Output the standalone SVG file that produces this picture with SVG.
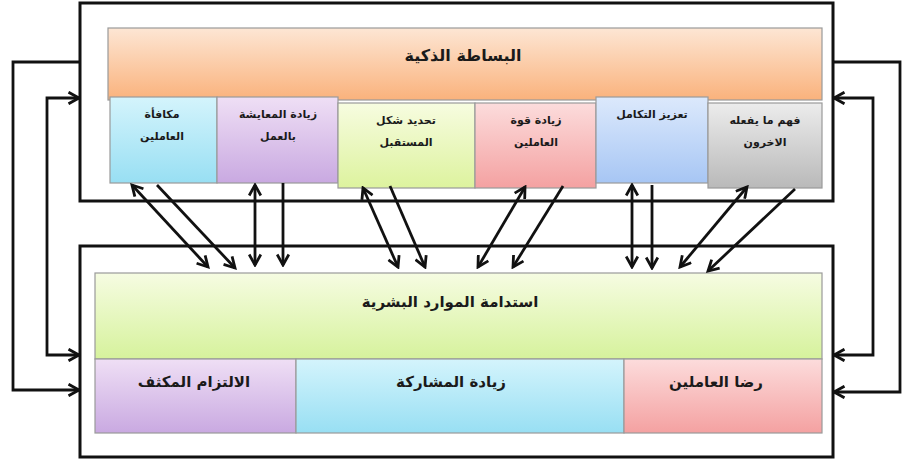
<svg xmlns="http://www.w3.org/2000/svg" width="909" height="461" viewBox="0 0 909 461">
<style>
.frame{fill:#fff;stroke:#111;stroke-width:3}
.box{stroke:#9a9a9a;stroke-width:1.2}
.t{font-family:"DejaVu Sans",sans-serif;font-weight:bold;fill:#1a1a1a;text-anchor:middle}
.big{font-size:16px}
.sm{font-size:11px}
.md{font-size:15px}
.c{fill:none;stroke:#111;stroke-width:2.8}
</style>
<defs>
<marker id="ah" viewBox="0 0 12 12" refX="10" refY="6" markerWidth="14" markerHeight="14" markerUnits="userSpaceOnUse" orient="auto-start-reverse">
<path d="M1,1 L10,6 L1,11" fill="none" stroke="#111" stroke-width="2.4"/>
</marker>
<linearGradient id="gOr" x1="0" y1="0" x2="0" y2="1"><stop offset="0" stop-color="#fde6d4"/><stop offset="1" stop-color="#fab27c"/></linearGradient>
<linearGradient id="gCy" x1="0" y1="0" x2="0" y2="1"><stop offset="0" stop-color="#d4f4fc"/><stop offset="1" stop-color="#98dff3"/></linearGradient>
<linearGradient id="gPu" x1="0" y1="0" x2="0" y2="1"><stop offset="0" stop-color="#efdff5"/><stop offset="1" stop-color="#c9a9e1"/></linearGradient>
<linearGradient id="gYe" x1="0" y1="0" x2="0" y2="1"><stop offset="0" stop-color="#f7fce0"/><stop offset="1" stop-color="#ddf39e"/></linearGradient>
<linearGradient id="gPk" x1="0" y1="0" x2="0" y2="1"><stop offset="0" stop-color="#fcdcdc"/><stop offset="1" stop-color="#f4a1a1"/></linearGradient>
<linearGradient id="gBl" x1="0" y1="0" x2="0" y2="1"><stop offset="0" stop-color="#dce9fc"/><stop offset="1" stop-color="#a7c6f4"/></linearGradient>
<linearGradient id="gGr" x1="0" y1="0" x2="0" y2="1"><stop offset="0" stop-color="#ececec"/><stop offset="1" stop-color="#b9b9b9"/></linearGradient>
<linearGradient id="gGn" x1="0" y1="0" x2="0" y2="1"><stop offset="0" stop-color="#f6fce2"/><stop offset="1" stop-color="#d6f29c"/></linearGradient>
</defs>

<g id="top-frame"><rect class="frame" x="80" y="3" width="753" height="198"/></g>
<g id="bottom-frame"><rect class="frame" x="80" y="246" width="753" height="211"/></g>

<g id="smart-simplicity">
<rect class="box" x="108" y="28" width="714" height="72" fill="url(#gOr)"/>
<text class="t big" x="463" y="61">البساطة الذكية</text>
</g>
<g id="n1">
<rect class="box" x="110" y="97" width="107" height="86" fill="url(#gCy)"/>
<text class="t sm" x="162" y="118">مكافأة</text>
<text class="t sm" x="162" y="140">العاملين</text>
</g>
<g id="n2">
<rect class="box" x="217" y="97" width="121" height="86" fill="url(#gPu)"/>
<text class="t sm" x="278" y="118">زيادة المعايشة</text>
<text class="t sm" x="278" y="140">بالعمل</text>
</g>
<g id="n3">
<rect class="box" x="338" y="103" width="137" height="85" fill="url(#gYe)"/>
<text class="t sm" x="406" y="124">تحديد شكل</text>
<text class="t sm" x="406" y="146">المستقبل</text>
</g>
<g id="n4">
<rect class="box" x="475" y="103" width="121" height="85" fill="url(#gPk)"/>
<text class="t sm" x="536" y="124">زيادة قوة</text>
<text class="t sm" x="536" y="146">العاملين</text>
</g>
<g id="n5">
<rect class="box" x="596" y="97" width="112" height="86" fill="url(#gBl)"/>
<text class="t sm" x="652" y="118">تعزيز التكامل</text>
</g>
<g id="n6">
<rect class="box" x="708" y="103" width="114" height="85" fill="url(#gGr)"/>
<text class="t sm" x="765" y="124">فهم ما يفعله</text>
<text class="t sm" x="765" y="146">الاخرون</text>
</g>

<g id="hr-sustainability">
<rect class="box" x="95" y="273" width="727" height="86" fill="url(#gGn)"/>
<text class="t md" x="450" y="307">استدامة الموارد البشرية</text>
</g>
<g id="b1">
<rect class="box" x="95" y="359" width="201" height="74" fill="url(#gPu)"/>
<text class="t md" x="194" y="387">الالتزام المكثف</text>
</g>
<g id="b2">
<rect class="box" x="296" y="359" width="328" height="74" fill="url(#gCy)"/>
<text class="t md" x="451" y="387">زيادة المشاركة</text>
</g>
<g id="b3">
<rect class="box" x="624" y="359" width="198" height="74" fill="url(#gPk)"/>
<text class="t md" x="716" y="387">رضا العاملين</text>
</g>

<g id="connectors">
<line class="c" x1="132" y1="185" x2="208" y2="267" marker-start="url(#ah)" marker-end="url(#ah)"/>
<line class="c" x1="157" y1="185" x2="235" y2="268" marker-end="url(#ah)"/>
<line class="c" x1="255" y1="185" x2="255" y2="265" marker-start="url(#ah)" marker-end="url(#ah)"/>
<line class="c" x1="283" y1="183" x2="283" y2="265" marker-end="url(#ah)"/>
<line class="c" x1="363" y1="188" x2="398" y2="267" marker-start="url(#ah)" marker-end="url(#ah)"/>
<line class="c" x1="390" y1="186" x2="425" y2="267" marker-end="url(#ah)"/>
<line class="c" x1="525" y1="187" x2="478" y2="267" marker-start="url(#ah)" marker-end="url(#ah)"/>
<line class="c" x1="563" y1="186" x2="513" y2="267" marker-end="url(#ah)"/>
<line class="c" x1="632" y1="185" x2="632" y2="267" marker-start="url(#ah)" marker-end="url(#ah)"/>
<line class="c" x1="652" y1="185" x2="652" y2="268" marker-end="url(#ah)"/>
<line class="c" x1="747" y1="187" x2="680" y2="267" marker-start="url(#ah)" marker-end="url(#ah)"/>
<line class="c" x1="795" y1="189" x2="708" y2="271" marker-end="url(#ah)"/>
<polyline class="c" points="80,62 13,62 13,390 79,390" marker-end="url(#ah)"/>
<polyline class="c" points="79,98 47,98 47,355 79,355" marker-start="url(#ah)" marker-end="url(#ah)"/>
<polyline class="c" points="833,62 900,62 900,392 834,392" marker-end="url(#ah)"/>
<polyline class="c" points="834,98 873,98 873,355 834,355" marker-start="url(#ah)" marker-end="url(#ah)"/>
</g>
</svg>
